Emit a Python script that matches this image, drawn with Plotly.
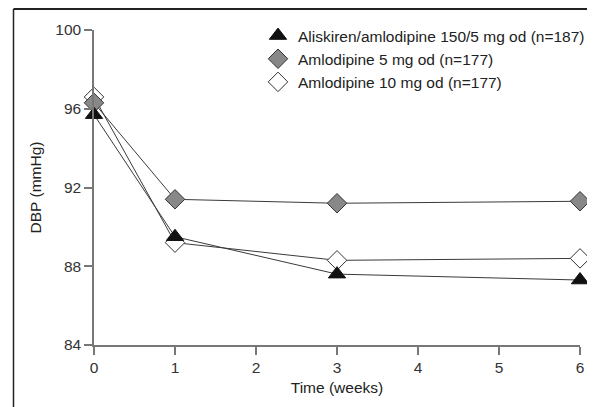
import plotly.graph_objects as go

weeks = [0, 1, 3, 6]
series_names = [
    "Aliskiren/amlodipine 150/5 mg od (n=187)",
    "Amlodipine 5 mg od (n=177)",
    "Amlodipine 10 mg od (n=177)",
]
aliskiren_amlo = [95.7, 89.5, 87.6, 87.3]
amlo5 = [96.3, 91.4, 91.2, 91.3]
amlo10 = [96.6, 89.2, 88.3, 88.4]
x_ticks = [0, 1, 2, 3, 4, 5, 6]
y_ticks = [84, 88, 92, 96, 100]

# page body has an 8px margin, so the figure sits at (8, 8) in the window
OFF = 8
W, H = 595 - OFF, 407 - OFF
# plot area in window coords: x 94..580, y 30..345
L = 94 - OFF
T = 30 - OFF
R = (595 - OFF) - (580 - OFF)
B = H - (345 - OFF)

fig = go.Figure()
line_col = "#3a3a3a"
series = [
    (aliskiren_amlo, series_names[0], dict(symbol="triangle-up", size=15, color="#111111",
                                           line=dict(color="#111", width=1))),
    (amlo5, series_names[1], dict(symbol="diamond", size=15, color="#888888",
                                  line=dict(color="#333", width=1))),
    (amlo10, series_names[2], dict(symbol="diamond", size=15, color="white",
                                   line=dict(color="#333", width=1))),
]
for vals, name, mk in series:
    fig.add_trace(go.Scatter(x=weeks, y=vals, mode="lines", showlegend=False,
                             line=dict(color=line_col, width=1), hoverinfo="skip"))
for rank, (vals, name, mk) in reversed(list(enumerate(series))):
    fig.add_trace(go.Scatter(x=weeks, y=vals, name=name, mode="markers",
                             marker=mk, cliponaxis=False, legendrank=rank + 1))

pw = W - L - R
ph = H - T - B
def px_x(p):  # window px -> paper
    return (p - OFF - L) / pw
def px_y(p):
    return (H - B - (p - OFF)) / ph

# figure frame (top and left border)
fig.add_shape(type="line", xref="paper", yref="paper",
              x0=px_x(13.5), x1=px_x(600), y0=px_y(9), y1=px_y(9),
              line=dict(color="#222", width=2))
fig.add_shape(type="line", xref="paper", yref="paper",
              x0=px_x(13.5), x1=px_x(13.5), y0=px_y(9), y1=px_y(410),
              line=dict(color="#222", width=1.5))

fs = 15.5
font = dict(family="Liberation Sans, Arial, sans-serif", size=fs, color="#333")
fig.update_layout(
    width=W, height=H,
    margin=dict(l=L, r=R, t=T, b=B, autoexpand=False),
    paper_bgcolor="white", plot_bgcolor="white",
    font=font,
    showlegend=True,
    legend=dict(x=px_x(258), y=px_y(19), xanchor="left", yanchor="top",
                bgcolor="rgba(0,0,0,0)", font=dict(size=fs, color="#222"),
                itemwidth=30, tracegroupgap=0, traceorder="normal"),
    xaxis=dict(range=[0, 6], tickvals=x_ticks, showgrid=False, zeroline=False,
               showline=True, linecolor="#777", linewidth=1.5, automargin=False,
               ticks="outside", ticklen=8, tickcolor="#777", tickwidth=1.5,
               title=dict(text="Time (weeks)", standoff=7, font=dict(size=fs, color="#222")),
               tickfont=dict(size=fs, color="#333")),
    yaxis=dict(range=[84, 100], tickvals=y_ticks, showgrid=False, zeroline=False,
               showline=True, linecolor="#777", linewidth=1.5, automargin=False,
               ticks="outside", ticklen=8, tickcolor="#777", tickwidth=1.5,
               title=dict(text="DBP (mmHg)", standoff=10, font=dict(size=fs, color="#222")),
               tickfont=dict(size=fs, color="#333")),
)

fig.write_html("out.html")
